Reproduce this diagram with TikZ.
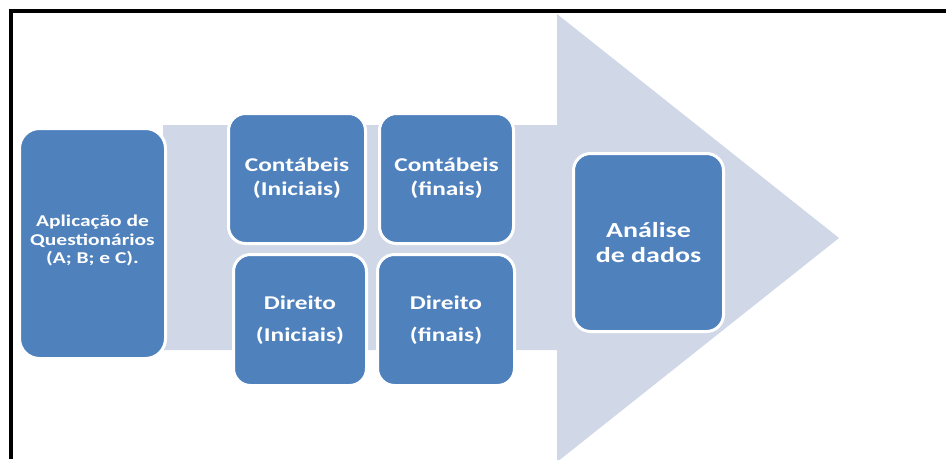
\documentclass[tikz,border=0pt]{standalone}
\usepackage{fontspec}
\newfontfamily\bxf[FakeStretch=1.3]{Carlito}
\newfontfamily\lxf[FakeStretch=1.3]{Carlito}
\definecolor{boxblue}{HTML}{4F81BD}
\definecolor{arrowgray}{HTML}{D0D8E8}
\begin{document}
\begin{tikzpicture}[x=1pt,y=-1pt,
  box/.style={draw=white, line width=3pt, fill=boxblue, rounded corners=17pt,
    text=white, align=center, inner sep=0pt},
  smalltxt/.style={font=\bxf\bfseries\fontsize{19.5}{24}\selectfont},
  dirtxt/.style={font=\bxf\bfseries\fontsize{19.5}{32}\selectfont},
  bigtxt/.style={font=\bxf\bfseries\fontsize{21.5}{25}\selectfont},
  lefttxt/.style={text=white, align=center, inner sep=0pt,
    font=\lxf\bfseries\fontsize{16.5}{18.5}\selectfont},
  frame/.style={line width=4pt, black}]
\useasboundingbox (0,0) rectangle (946,459);
\clip (0,0) rectangle (946,459);
% big arrow
\fill[arrowgray] (163,125) -- (557,125) -- (557,14) -- (839,238) -- (557,462)
  -- (557,350) -- (163,350) -- cycle;
% boxes
\node[box, minimum width=146pt, minimum height=230pt, rounded corners=20pt] (apl) at (92.5,243.5) {};
\node[lefttxt] (aplt) at ([yshift=3pt]apl.center) {Aplicação de\\Questionários\\(A; B; e C).};
\node[box, smalltxt, minimum width=137pt, minimum height=130pt] (ci) at (297,178.5) {Contábeis\\(Iniciais)};
\node[box, smalltxt, minimum width=134pt, minimum height=130pt] (cf) at (446.5,178.5) {Contábeis\\(finais)};
\node[box, dirtxt, minimum width=133pt, minimum height=131pt] (di) at (300,320) {Direito\\(Iniciais)};
\node[box, dirtxt, minimum width=137pt, minimum height=131pt] (df) at (446,320) {Direito\\(finais)};
\node[box, bigtxt, minimum width=150pt, minimum height=178pt] (ana) at (648.5,242.5) {Análise\\de dados};
% frame
\draw[frame] (11,459) -- (11,11) -- (946,11);
\end{tikzpicture}
\end{document}
